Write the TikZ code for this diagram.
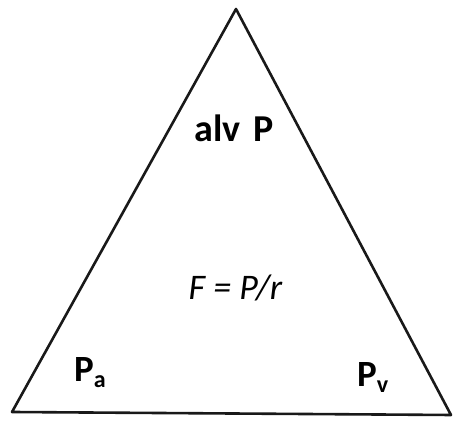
\documentclass[tikz,border=0pt]{standalone}
\usepackage{fontspec}
\setmainfont{Carlito}
\begin{document}
\begin{tikzpicture}[x=1pt,y=1pt,
  edge/.style={line width=2.6pt,line join=round,line cap=round,black!90},
  lbl/.style={font=\fontsize{38}{42}\selectfont\bfseries,inner sep=0pt},
  eq/.style={font=\fontsize{36}{40}\selectfont\itshape,inner sep=0pt},
  corner/.style={font=\fontsize{37}{40}\selectfont\bfseries,inner sep=0pt,anchor=base west}]
\useasboundingbox (0,0) rectangle (453,422);
\coordinate (top) at (236,413);
\coordinate (bl) at (12,10);
\coordinate (br) at (451,7);
\draw[edge] (bl) -- (top) -- (br) -- cycle;
\node[lbl,anchor=base] (alv) at (234,280) {alv\hspace{0.32em}P};
\node[eq,anchor=base] (f) at (235.5,122) {F = P/r};
\node[corner] (pa) at (74,40) {P\raisebox{-6pt}{\fontsize{24}{26}\selectfont a}};
\node[corner] (pv) at (357,35) {P\raisebox{-6pt}{\fontsize{24}{26}\selectfont v}};
\end{tikzpicture}
\end{document}
